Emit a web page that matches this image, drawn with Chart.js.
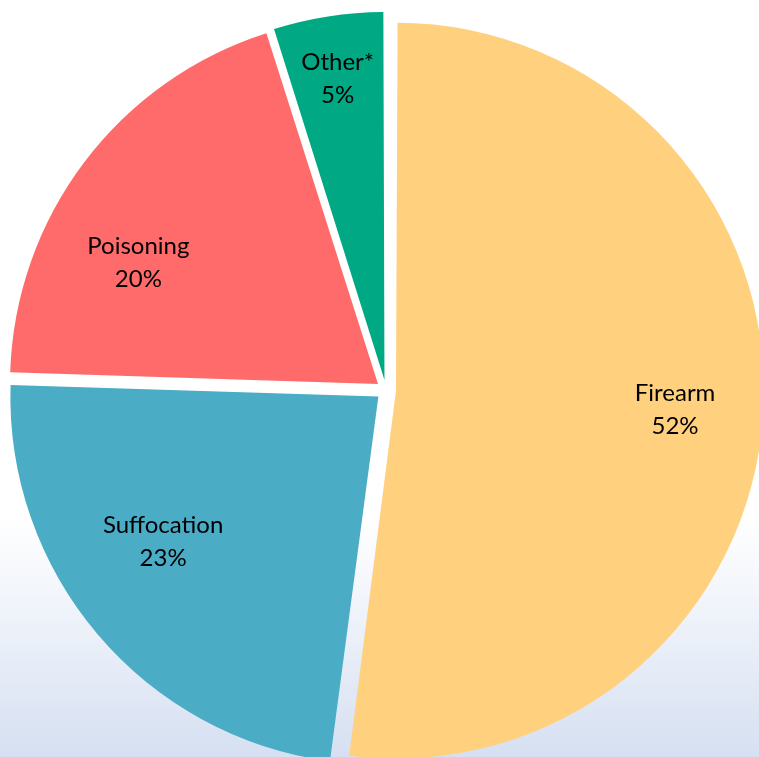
<!DOCTYPE html>
<html>
<head>
<meta charset="utf-8">
<script src="https://cdn.jsdelivr.net/npm/chart.js@4.4.1/dist/chart.umd.min.js"></script>
<style>
html, body {
  margin: 0;
  width: 759px;
  height: 757px;
  overflow: hidden;
  background: linear-gradient(to bottom, #ffffff 0px, #ffffff 520px, #d6e0f2 757px);
}
#wrap { position: absolute; left: 0; top: 0; }
</style>
</head>
<body>
<div id="wrap"><canvas id="pie" width="772" height="780"></canvas></div>
<script>
const labels = ['Firearm', 'Suffocation', 'Poisoning', 'Other*'];
const shares = [52.1, 23.4, 19.6, 4.9];
const colors = ['#FFD17F', '#4BACC6', '#FF6B6B', '#00A884'];

const RADIUS = 368;
const EXPLODE = 40; // chart.js moves each arc by offset / 4

// where the labels sit: fraction of radius, angle nudge in degrees
const labelSpots = [[0.76, 0], [0.705, 6.4], [0.73, -10.2], [0.83, 0]];

// chart.js grows small arcs when they are offset, keep them all the same size
const keepRadius = {
  id: 'keepRadius',
  afterDatasetsUpdate(chart) {
    chart.getDatasetMeta(0).data.forEach(arc => {
      const fix = 1 - Math.sin(Math.min(Math.PI, arc.circumference));
      arc.outerRadius = RADIUS - EXPLODE / 4 * fix;
    });
  }
};

const sliceLabels = {
  id: 'sliceLabels',
  afterDatasetsDraw(chart) {
    const ctx = chart.ctx;
    ctx.save();
    ctx.font = '24px Lato';
    ctx.fillStyle = '#000';
    ctx.textAlign = 'center';
    ctx.textBaseline = 'middle';
    chart.getDatasetMeta(0).data.forEach((arc, i) => {
      const mid = (arc.startAngle + arc.endAngle) / 2;
      const [f, nudge] = labelSpots[i];
      const a = mid + nudge * Math.PI / 180;
      const push = EXPLODE / 4;
      const x = arc.x + Math.cos(mid) * push + Math.cos(a) * f * RADIUS;
      const y = arc.y + Math.sin(mid) * push + Math.sin(a) * f * RADIUS;
      ctx.fillText(labels[i], x, y - 16);
      ctx.fillText(Math.round(shares[i]) + '%', x, y + 17);
    });
    ctx.restore();
  }
};

new Chart(document.getElementById('pie'), {
  type: 'pie',
  data: {
    labels: labels,
    datasets: [{
      data: shares,
      backgroundColor: colors,
      borderWidth: 0,
      offset: EXPLODE,
      radius: RADIUS
    }]
  },
  options: {
    responsive: false,
    animation: false,
    plugins: {
      legend: { display: false },
      tooltip: { enabled: false }
    }
  },
  plugins: [keepRadius, sliceLabels]
});
</script>
</body>
</html>
